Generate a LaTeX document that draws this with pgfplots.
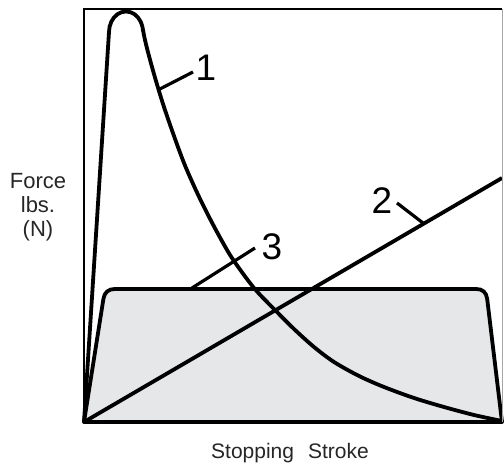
\documentclass[border=0pt]{standalone}
\usepackage{pgfplots}
\pgfplotsset{compat=1.18}
\usepackage{fontspec}
\setmainfont{Liberation Sans}
\definecolor{fillgray}{HTML}{E6E7E8}
\begin{document}
\begin{tikzpicture}
\begin{axis}[
  width=418pt, height=413pt, scale only axis,
  xmin=0, xmax=418, ymin=0, ymax=413,
  hide axis, clip=false,
]
% curve 3 (trapezoid, shaded)
\addplot[draw=black, line width=3.8pt, fill=fillgray, line join=round] coordinates {
  (0,0) (19.4,123) (20.7,127.4) (23.1,130.5) (26.5,132.4) (31,133)
  (392,133) (396.5,132.4) (399.8,130.5) (402,127.4) (403.2,123)
  (418,0) (0,0)
} -- cycle;
% curve 2 (straight line)
\addplot[black, line width=3.8pt] coordinates {(0,0) (418,244)};
% curve 1: rise and rounded peak
\addplot[black, line width=3.8pt, sharp plot, line join=round, line cap=round] coordinates {
  (0,0) (25,390) (25.6,395.3) (27.3,400.3) (30,404.5) (33.5,407.8)
  (37.6,409.8) (42,410.5) (46.4,409.8) (50.5,407.8) (54,404.5)
  (56.7,400.3) (58.3,395.8) (59.3,390.5)
};
% curve 1: decay
\addplot[black, line width=3.8pt, smooth, tension=0.5, line cap=round] coordinates {
  (59.3,390.5) (61,382) (65,366) (72,341) (80,315) (90,286)
  (100,259) (110,236) (120,215) (133,190) (148,164) (170,134) (192,111)
  (210,93) (230,75) (250,60) (275,46) (300,35) (330,24) (360,15)
  (390,7) (418,1)
};
% frame
\draw[black, line width=2pt] (axis cs:0,0) -- (axis cs:0,412.5) -- (axis cs:418,412.5);
\draw[gray!70, line width=0.8pt] (axis cs:418,412.5) -- (axis cs:418,0);
% leaders and labels
\draw[black, line width=3.2pt] (axis cs:74,332) -- (axis cs:109,350);
\node[font=\fontsize{37}{40}\selectfont, inner sep=0pt] at (axis cs:122,354) {1};
\draw[black, line width=3.2pt] (axis cs:313,219) -- (axis cs:339,199);
\node[font=\fontsize{37}{40}\selectfont, inner sep=0pt] at (axis cs:298,221) {2};
\draw[black, line width=3.2pt] (axis cs:108,134) -- (axis cs:171,174);
\node[font=\fontsize{37}{40}\selectfont, inner sep=0pt] at (axis cs:188,175) {3};
% axis labels
\node[font=\fontsize{22}{24}\selectfont, align=center, inner sep=0pt, text=black!85] at (axis cs:-46,215) {Force\\lbs.\\(N)};
\node[font=\fontsize{21}{24}\selectfont, inner sep=0pt, text=black!85] at (axis cs:206,-31) {Stopping\hspace{14pt}Stroke};
\coordinate (BL) at (axis cs:-84,-43);
\coordinate (TR) at (axis cs:420,422);
\end{axis}
\pgfresetboundingbox
\path (BL) rectangle (TR);
\end{tikzpicture}
\end{document}
